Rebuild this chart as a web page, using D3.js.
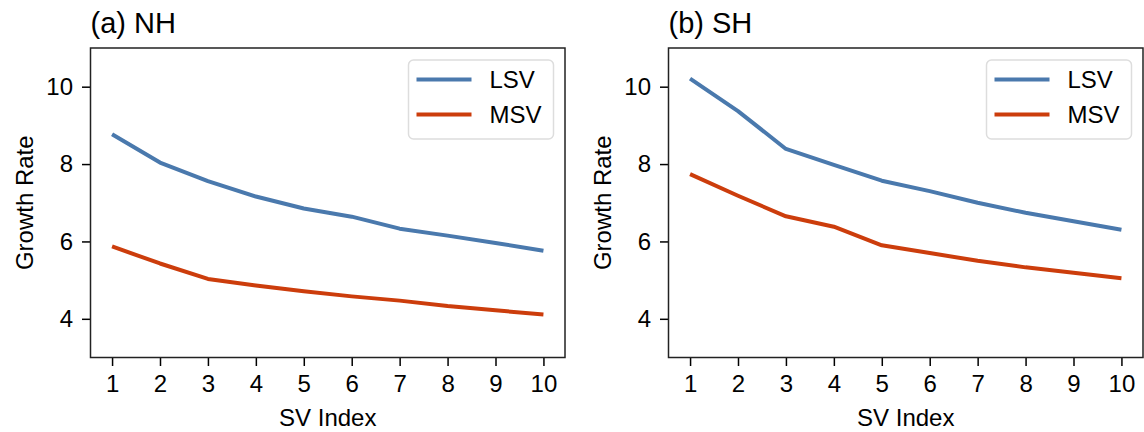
<!DOCTYPE html>
<html>
<head>
<meta charset="utf-8">
<script src="https://cdn.jsdelivr.net/npm/d3@7"></script>
<style>
  body { margin: 0; background: #fff; }
  text { font-family: Arial, "Liberation Sans", sans-serif; fill: #000; }
</style>
</head>
<body>
<svg width="1144" height="432"></svg>
<script>
var svIndex = [1, 2, 3, 4, 5, 6, 7, 8, 9, 10];
var nhLSV = [8.77, 8.04, 7.56, 7.16, 6.85, 6.64, 6.33, 6.15, 5.96, 5.76];
var nhMSV = [5.87, 5.43, 5.03, 4.86, 4.71, 4.58, 4.47, 4.33, 4.22, 4.11];
var shLSV = [10.21, 9.37, 8.39, 7.98, 7.57, 7.30, 7.00, 6.74, 6.52, 6.30];
var shMSV = [7.74, 7.18, 6.65, 6.38, 5.90, 5.70, 5.50, 5.33, 5.19, 5.05];
var yTicks = [4, 6, 8, 10];
var titles = ["(a) NH", "(b) SH"];
var seriesNames = ["LSV", "MSV"];
var colors = ["#4a79ad", "#cc3d0c"];

var svg = d3.select("svg");
var panels = [
    {left: 90.5, title: titles[0], data: [nhLSV, nhMSV]},
    {left: 668.5, title: titles[1], data: [shLSV, shMSV]}
];
var plotTop = 48, width = 474.5, height = 309.5;

panels.forEach(function(p){
    var g = svg.append("g").attr("transform", "translate(" + p.left + "," + plotTop + ")");

    var x = d3.scaleLinear().domain([0.55, 10.45]).range([0, width]);
    var y = d3.scaleLinear().domain([3, 11]).range([height, 0]);

    // lines
    var line = d3.line()
        .x(function(d, i){ return x(svIndex[i]); })
        .y(function(d){ return y(d); });
    p.data.forEach(function(s, k){
        g.append("path")
            .attr("d", line(s))
            .attr("fill", "none")
            .attr("stroke", colors[k])
            .attr("stroke-width", 4)
            .attr("stroke-linejoin", "round");
    });

    // axes
    var xa = g.append("g")
        .attr("transform", "translate(0," + height + ")")
        .call(d3.axisBottom(x).tickValues(svIndex).tickSize(8.5).tickPadding(9).tickFormat(d3.format("d")));
    var ya = g.append("g")
        .call(d3.axisLeft(y).tickValues(yTicks).tickSize(8.5).tickPadding(9).tickFormat(d3.format("d")));
    [xa, ya].forEach(function(a){
        a.select(".domain").remove();
        a.selectAll("line").attr("stroke", "#000").attr("stroke-width", 1.5);
        a.selectAll("text").style("font-size", "24px").style("font-family", "Arial, 'Liberation Sans', sans-serif");
    });

    // frame
    g.append("rect")
        .attr("width", width).attr("height", height)
        .attr("fill", "none").attr("stroke", "#222").attr("stroke-width", 1.5);

    // labels
    g.append("text")
        .attr("x", 0).attr("y", -15)
        .style("font-size", "29px")
        .text(p.title);
    g.append("text")
        .attr("x", width / 2).attr("y", height + 68.5)
        .attr("text-anchor", "middle")
        .style("font-size", "24px")
        .text("SV Index");
    g.append("text")
        .attr("transform", "translate(" + (-58) + "," + (height / 2) + ") rotate(-90)")
        .attr("text-anchor", "middle")
        .style("font-size", "24px")
        .text("Growth Rate");

    // legend
    var lg = g.append("g").attr("transform", "translate(318,12)");
    lg.append("rect")
        .attr("width", 145).attr("height", 79).attr("rx", 5)
        .attr("fill", "#fff").attr("fill-opacity", 0.8)
        .attr("stroke", "#ddd").attr("stroke-width", 1.5);
    seriesNames.forEach(function(n, k){
        var yy = 19.5 + k * 35;
        lg.append("line")
            .attr("x1", 8).attr("x2", 63).attr("y1", yy).attr("y2", yy)
            .attr("stroke", colors[k]).attr("stroke-width", 4);
        lg.append("text")
            .attr("x", 81).attr("y", yy + 8.5)
            .style("font-size", "24px")
            .text(n);
    });
});
</script>
</body>
</html>
